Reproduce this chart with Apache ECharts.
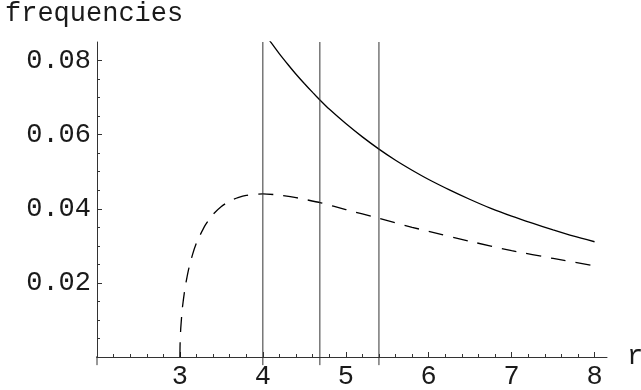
<!DOCTYPE html>
<html>
<head>
<meta charset="utf-8">
<script src="https://cdn.jsdelivr.net/npm/echarts@6/dist/echarts.min.js"></script>
<style>
	html, body { margin: 0; padding: 0; background: #fff; }
	#main { width: 641px; height: 390px; }
</style>
</head>
<body>
<div id="main"></div>
<script>
// solid curve (upper) : r, frequency
var solidR = [4.0, 4.1, 4.2, 4.3, 4.4, 4.5, 4.6, 4.7, 4.8, 5.0, 5.2, 5.4, 5.6, 5.8, 6.0, 6.25, 6.5, 6.75, 7.0, 7.25, 7.5, 7.75, 8.0];
var solidF = [0.0880, 0.0848, 0.0818, 0.0790, 0.0763, 0.0738, 0.0714, 0.0691, 0.0669, 0.0630, 0.0594, 0.0561, 0.0531, 0.0504, 0.0479, 0.0451, 0.0425, 0.0401, 0.0380, 0.0361, 0.0343, 0.0326, 0.0311];
// dashed curve (lower)
var dashR = [3.0, 3.002, 3.01, 3.03, 3.06, 3.1, 3.15, 3.2, 3.3, 3.4, 3.5, 3.6, 3.7, 3.8, 4.0, 4.2, 4.4, 4.7, 5.0, 5.4, 5.8, 6.0, 6.5, 7.0, 7.5, 8.0];
var dashF = [0.0, 0.0035, 0.0078, 0.0133, 0.0184, 0.0232, 0.0275, 0.0308, 0.0354, 0.0385, 0.0406, 0.0421, 0.0430, 0.0436, 0.0440, 0.0437, 0.0430, 0.0416, 0.0398, 0.0374, 0.0350, 0.0339, 0.0312, 0.0287, 0.0266, 0.0246];
// vertical marker lines
var markR = [4, 4.6875, 5.4];

var xTicks = [3, 4, 5, 6, 7, 8];
var yTicks = [0.02, 0.04, 0.06, 0.08];

var xMin = 2, xMax = 8.15, xAxisStart = 1.84;
var yMin = 0, yMax = 0.085, yAxisStart = -0.0022;

var font = 'Liberation Mono';
var fontSize = 27;
var textColor = '#1a1a1a';
var axisColor = '#333';

function zip(a, b) {
	var out = [];
	for (var i = 0; i < a.length; ++i)
		out.push([a[i], b[i]]);
	return out;
}

var myChart = echarts.init(document.getElementById('main'));

var series = [
	{
		type: 'line',
		data: zip(solidR, solidF),
		showSymbol: false,
		smooth: 0.2,
		lineStyle: { color: '#000', width: 1.3 }
	},
	{
		type: 'line',
		data: zip(dashR, dashF),
		showSymbol: false,
		smooth: 0.2,
		lineStyle: { color: '#000', width: 1.3, type: [15, 10] }
	},
	// axis line stubs beyond the origin (Mathematica style)
	{
		type: 'line',
		data: [[xAxisStart, 0], [xMin, 0]],
		showSymbol: false,
		clip: false,
		lineStyle: { color: axisColor, width: 1 }
	},
	{
		type: 'line',
		data: [[xMin, yAxisStart], [xMin, 0]],
		showSymbol: false,
		clip: false,
		lineStyle: { color: axisColor, width: 1 }
	}
];
for (var i = 0; i < markR.length; ++i) {
	series.push({
		type: 'line',
		data: [[markR[i], yAxisStart], [markR[i], yMax]],
		showSymbol: false,
		clip: false,
		lineStyle: { color: '#333', width: 1 }
	});
}

var option = {
	animation: false,
	backgroundColor: '#fff',
	title: {
		text: 'frequencies',
		left: 5,
		top: 0,
		padding: 0,
		textStyle: { fontFamily: font, fontSize: fontSize, fontWeight: 'normal', color: textColor }
	},
	grid: { left: 97, right: 34, top: 42, bottom: 33, containLabel: false, outerBoundsMode: 'none' },
	xAxis: {
		type: 'value',
		min: xMin,
		max: xMax,
		interval: 1,
		name: 'r',
		nameLocation: 'end',
		nameGap: 20,
		nameTextStyle: { fontFamily: font, fontSize: fontSize, color: textColor, verticalAlign: 'middle' },
		axisLine: { show: true, lineStyle: { color: axisColor, width: 1 } },
		axisTick: { show: true, inside: true, length: 5, customValues: xTicks, lineStyle: { color: axisColor } },
		minorTick: { show: true, splitNumber: 5, length: 3, lineStyle: { color: axisColor } },
		axisLabel: { customValues: xTicks, fontFamily: font, fontSize: fontSize, color: textColor, margin: 6 },
		splitLine: { show: false }
	},
	yAxis: {
		type: 'value',
		min: yMin,
		max: yMax,
		interval: 0.02,
		axisLine: { show: true, lineStyle: { color: axisColor, width: 1 } },
		axisTick: { show: true, inside: true, length: 5, customValues: yTicks, lineStyle: { color: axisColor } },
		minorTick: { show: true, splitNumber: 4, length: 3, lineStyle: { color: axisColor } },
		axisLabel: {
			customValues: yTicks,
			fontFamily: font, fontSize: fontSize, color: textColor, margin: 6,
			formatter: function (v) { return v.toFixed(2); }
		},
		splitLine: { show: false }
	},
	series: series
};

myChart.setOption(option);
</script>
</body>
</html>
